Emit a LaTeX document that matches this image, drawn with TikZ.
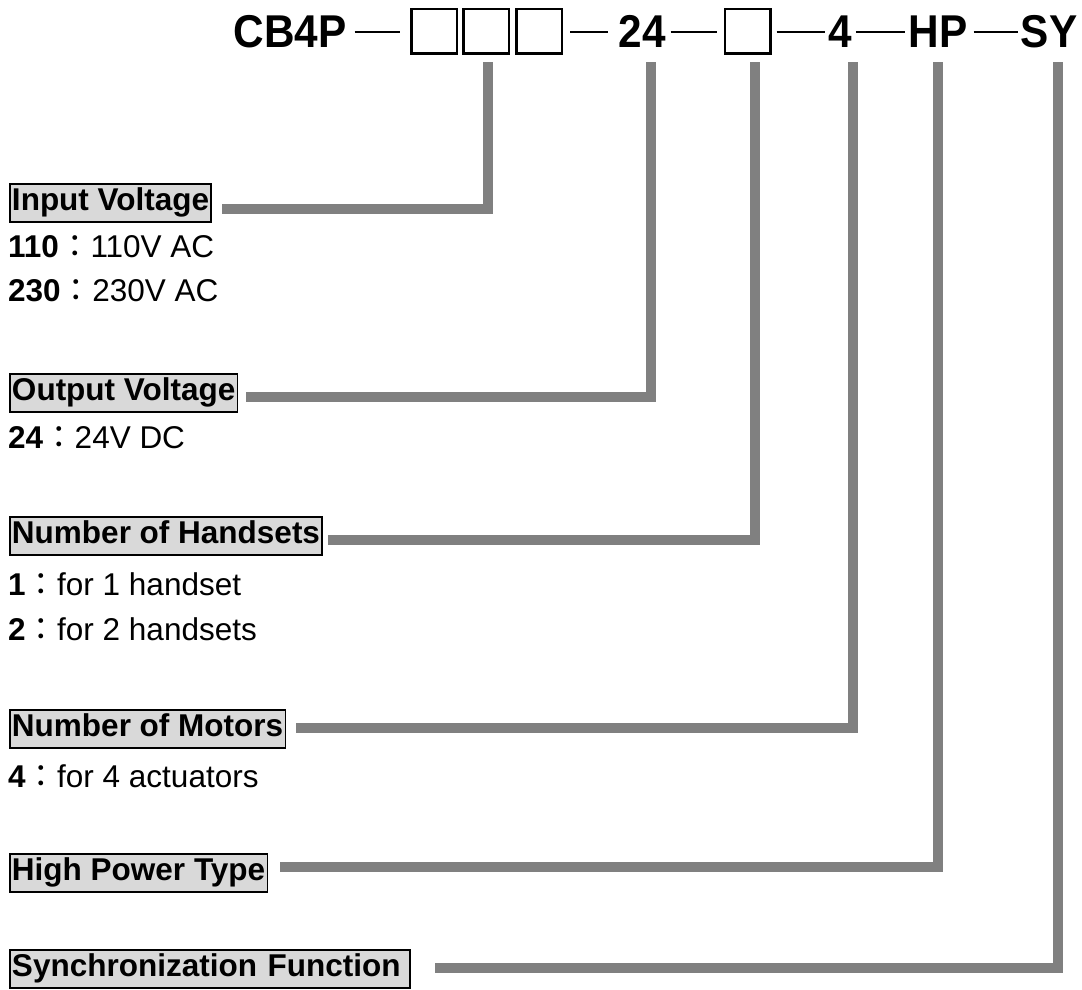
\documentclass[tikz,border=0pt]{standalone}
\usepackage{fontspec}
\setmainfont{Liberation Sans}
\newfontfamily\titlefont[FakeStretch=0.92]{Liberation Sans}
\newfontfamily\cjk{Noto Sans CJK JP}
\definecolor{labelgray}{HTML}{D9D9D9}
\definecolor{conngray}{HTML}{808080}
\begin{document}
\begin{tikzpicture}[x=1pt,y=-1pt,
  titletext/.style={font=\titlefont\fontsize{46}{46}\selectfont\bfseries, inner sep=0pt, anchor=base},
  slot/.style={draw=black, line width=2.5pt, minimum width=45.5pt, minimum height=44.5pt, inner sep=0pt},
  label/.style={draw=black, line width=1.8pt, fill=labelgray, font=\fontsize{31.5}{36}\selectfont\bfseries,
    anchor=north west, inner xsep=2.2pt, inner ysep=4pt, text height=23pt, text depth=7pt, minimum height=38pt},
  opt/.style={anchor=base west, inner sep=0pt, font=\fontsize{31.5}{36}\selectfont},
  conn/.style={draw=conngray, line width=10pt},
  sep/.style={draw=black, line width=1.7pt}
]
\useasboundingbox[fill=white] (0,0) rectangle (1082,990);

% ---- title row ----
\node[titletext] (cb) at (290,48) {CB4P};
\node[slot] (b1) at (434,31.5) {};
\node[slot] (b2) at (486,31.5) {};
\node[slot] (b3) at (539,31.5) {};
\node[titletext] (t24) at (642,48) {24};
\node[slot] (b4) at (747.5,31.5) {};
\node[titletext] (t4) at (840,48) {4};
\node[titletext] (hp) at (938,48) {HP};
\node[titletext] (sy) at (1049,48) {SY};

\coordinate (r) at (0,32);
\draw[sep] (cb.east |- r) ++(8,0) -- (400,32);
\draw[sep] (b3.east |- r) ++(7,0) -- (608,32);
\draw[sep] (t24.east |- r) ++(5,0) -- (717,32);
\draw[sep] (b4.east |- r) ++(5,0) -- (825,32);
\draw[sep] (t4.east |- r) ++(4,0) -- (905,32);
\draw[sep] (hp.east |- r) ++(6,0) -- (1018,32);

% connector tops
\coordinate (k1) at (488,62);
\coordinate (k2) at (651,62);
\coordinate (k3) at (755,62);
\coordinate (k4) at (853,62);
\coordinate (k5) at (938,62);
\coordinate (k6) at (1058,62);

% ---- labels ----
\node[label] (in) at (8.9,182.9) {Input Voltage};
\node[opt] (o1) at (8,257) {\textbf{110}{\cjk ：}110V AC};
\node[opt] (o2) at (8,301) {\textbf{230}{\cjk ：}230V AC};

\node[label] (out) at (8.9,372.9) {Output Voltage};
\node[opt] (o3) at (8,448) {\textbf{24}{\cjk ：}24V DC};

\node[label] (hs) at (8.9,515.9) {Number of Handsets};
\node[opt] (o4) at (8,595) {\textbf{1}{\cjk ：}for 1 handset};
\node[opt] (o5) at (8,640) {\textbf{2}{\cjk ：}for 2 handsets};

\node[label] (mo) at (8.9,708.9) {Number of Motors};
\node[opt] (o6) at (8,787) {\textbf{4}{\cjk ：}for 4 actuators};

\node[label] (hpt) at (8.9,852.9) {High Power Type};

\node[label, text width=396pt, align=left] (syn) at (8.9,948.9) {Synchronization Function};

% ---- connectors ----
\draw[conn] (in.east) ++(10,6) -| (k1);
\draw[conn] (out.east) ++(8,4.5) -| (k2);
\draw[conn] (hs.east) ++(5,4) -| (k3);
\draw[conn] (mo.east) ++(10,-0.5) -| (k4);
\draw[conn] (hpt.east) ++(12,-5.5) -| (k5);
\draw[conn] (syn.east) ++(24,-1) -| (k6);
\end{tikzpicture}
\end{document}
